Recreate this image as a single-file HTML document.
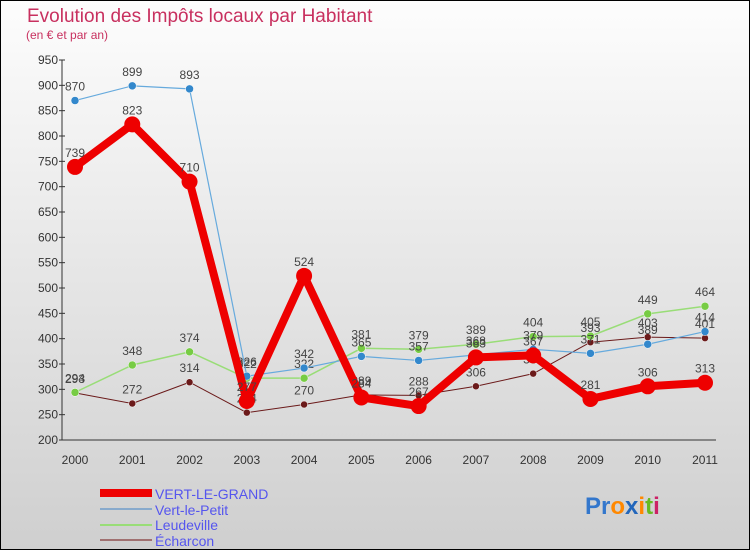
<!DOCTYPE html>
<html><head><meta charset="utf-8"><style>
body{margin:0;width:750px;height:550px;overflow:hidden}
svg{display:block;font-family:"Liberation Sans",sans-serif}
</style></head><body>
<svg id="c" width="750" height="550">
<defs><linearGradient id="bg" x1="0" y1="0" x2="0" y2="1"><stop offset="0" stop-color="#fdfdfd"/><stop offset="1" stop-color="#cfcfcf"/></linearGradient></defs>
<rect x="0.5" y="0.5" width="749" height="549" fill="url(#bg)" stroke="#000"/>
<text x="27" y="22" font-size="19" fill="#c8305f">Evolution des Impôts locaux par Habitant</text>
<text x="26" y="39" font-size="12" fill="#c8305f">(en € et par an)</text>
<g id="axes"></g><g id="series"></g>
<g>
<rect x="100" y="489" width="52" height="8" fill="#ee0000"/>
<text x="155" y="499" font-size="14" fill="#5555ee">VERT-LE-GRAND</text>
<line x1="100" x2="152" y1="509" y2="509" stroke="#88aacc" stroke-width="2"/>
<text x="155" y="515" font-size="14" fill="#5555ee">Vert-le-Petit</text>
<line x1="100" x2="152" y1="525" y2="525" stroke="#99dd77" stroke-width="2"/>
<text x="155" y="530" font-size="14" fill="#5555ee">Leudeville</text>
<line x1="100" x2="152" y1="540" y2="540" stroke="#a07070" stroke-width="2"/>
<text x="155" y="546" font-size="14" fill="#5555ee">Écharcon</text>
</g>
<text x="585" y="514" font-size="24" font-weight="bold"><tspan fill="#3377cc">Pr</tspan><tspan fill="#ff8800">o</tspan><tspan fill="#2266bb">x</tspan><tspan fill="#ff8800">i</tspan><tspan fill="#66bb22">t</tspan><tspan fill="#cc2266">i</tspan></text>
</svg>
<script>
const years=["2000","2001","2002","2003","2004","2005","2006","2007","2008","2009","2010","2011"];
const yTicks=[200,250,300,350,400,450,500,550,600,650,700,750,800,850,900,950];
const vertLeGrand=[739,823,710,277,524,284,267,363,367,281,306,313];
const vertLePetit=[870,899,893,326,342,365,357,368,379,371,389,414];
const leudeville=[294,348,374,322,322,381,379,389,404,405,449,464];
const echarcon=[293,272,314,254,270,289,288,306,331,393,403,401];
const NS="http://www.w3.org/2000/svg";
function X(i){return 75+i*(630/11);}
function Y(v){return 440-(v-200)*(380/750);}
function mk(t,a,p){const e=document.createElementNS(NS,t);for(const k in a)e.setAttribute(k,a[k]);p.appendChild(e);return e;}
const ax=document.getElementById('axes');
const yl=mk('line',{x1:62,x2:62,y1:60,y2:440,stroke:'#333'},ax);


const xl=mk('line',{x1:62,x2:716,y1:440,y2:440,stroke:'#333'},ax);


yTicks.forEach(v=>{const t=mk('text',{x:58,y:Y(v)+4,'font-size':12,fill:'#333','text-anchor':'end'},ax);t.textContent=v;


mk('line',{x1:59,x2:65,y1:Y(v),y2:Y(v),stroke:'#333'},ax);});
years.forEach((y,i)=>{const t=mk('text',{x:X(i),y:464,'font-size':12,fill:'#333','text-anchor':'middle'},ax);t.textContent=y;

});
const sg=document.getElementById('series');
const defs=[[echarcon,'#6b1a1a','#6b1a1a',1,3.5,'echarcon'],[leudeville,'#99dd77','#77cc44',1.5,4,'leudeville'],[vertLePetit,'#66aadd','#3388cc',1.2,4,'vert-le-petit'],[vertLeGrand,'#ee0000','#ee0000',8,8,'vert-le-grand']];
defs.forEach(([d,lc,pc,w,r,n])=>{
const g=mk('g',{},sg);


const pl=mk('polyline',{points:d.map((v,i)=>X(i)+','+Y(v)).join(' '),fill:'none',stroke:lc,'stroke-width':w,'stroke-linejoin':'round'},g);


d.forEach((v,i)=>{const c=mk('circle',{cx:X(i),cy:Y(v),r:r,fill:pc,stroke:n=='vert-le-grand'?'none':'#fff','stroke-width':0.5},g);


const t=mk('text',{x:X(i),y:Y(v)-10,'font-size':12,fill:'#444','text-anchor':'middle'},g);t.textContent=v;

});
});
</script>
</body></html>
